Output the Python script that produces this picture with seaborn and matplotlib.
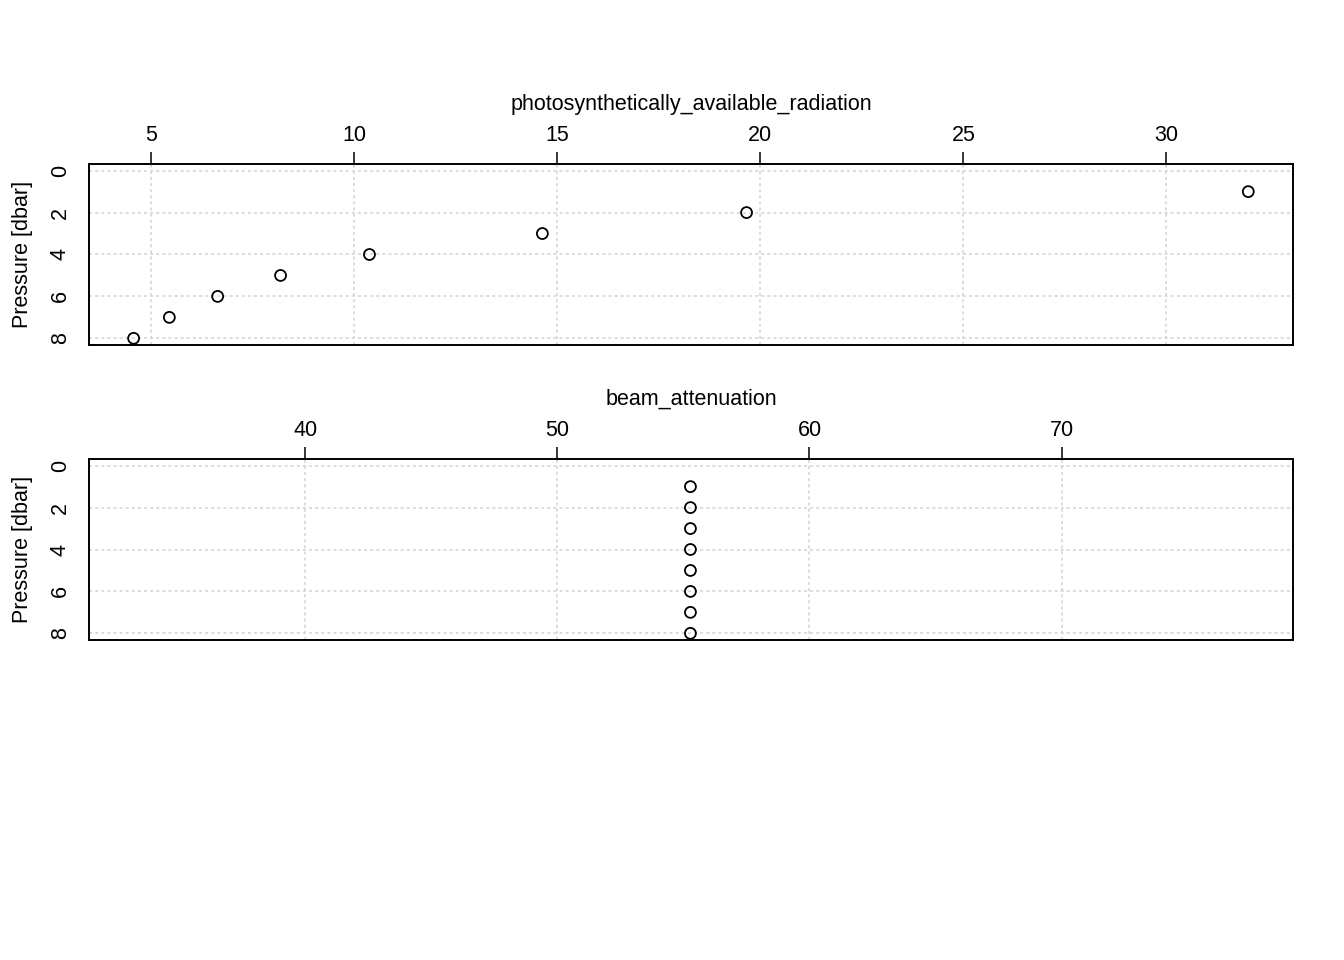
import matplotlib
matplotlib.use("Agg")
import matplotlib.pyplot as plt
import seaborn as sns
import pandas as pd

# profile data
pressure = [1, 2, 3, 4, 5, 6, 7, 8]
par = [32.02, 19.66, 14.63, 10.37, 8.18, 6.63, 5.44, 4.56]
beam = [55.28, 55.28, 55.28, 55.28, 55.28, 55.28, 55.28, 55.28]

panel_names = ["photosynthetically_available_radiation", "beam_attenuation"]
panel_xticks = [[5, 10, 15, 20, 25, 30], [40, 50, 60, 70]]
panel_xlims = [(3.46, 33.12), (31.43, 79.17)]
yticks = [0, 2, 4, 6, 8]

df = pd.DataFrame({"pressure": pressure,
                   "photosynthetically_available_radiation": par,
                   "beam_attenuation": beam})

sns.set_style("white")
plt.rcParams["font.family"] = ["Liberation Sans", "DejaVu Sans"]
plt.rcParams["text.color"] = "black"
plt.rcParams["axes.labelcolor"] = "black"
plt.rcParams["xtick.color"] = "black"
plt.rcParams["ytick.color"] = "black"

fig = plt.figure(figsize=(13.44, 9.6), dpi=100)
boxes = [[0.0662, 0.6406, 0.8958, 0.1886], [0.0662, 0.3333, 0.8958, 0.1886]]

for box, name, xt, xl in zip(boxes, panel_names, panel_xticks, panel_xlims):
    ax = fig.add_axes(box)
    ax.set_xlim(*xl)
    ax.set_ylim(8.32, -0.32)
    for v in xt:
        ax.axvline(v, color="#D3D3D3", lw=1.1, ls=(0, (2, 2)), zorder=0)
    for v in yticks:
        ax.axhline(v, color="#D3D3D3", lw=1.1, ls=(0, (2, 2)), zorder=0)
    sns.scatterplot(data=df, x=name, y="pressure", ax=ax, marker="o",
                    facecolors="none", edgecolor="black", s=62, linewidth=1.3,
                    zorder=3)
    ax.xaxis.tick_top()
    ax.xaxis.set_label_position("top")
    ax.set_xticks(xt)
    ax.set_yticks(yticks)
    ax.set_yticklabels([str(v) for v in yticks], rotation=90, va="center")
    ax.tick_params(axis="both", length=9, width=1.1, labelsize=15.5, pad=4,
                   colors="black")
    ax.set_xlabel(name, fontsize=15.5, labelpad=11)
    ax.set_ylabel("Pressure [dbar]", fontsize=15.5, labelpad=12)
    for s in ax.spines.values():
        s.set_color("black")
        s.set_linewidth(1.4)

fig.savefig("out.png", dpi=100, facecolor="white")
